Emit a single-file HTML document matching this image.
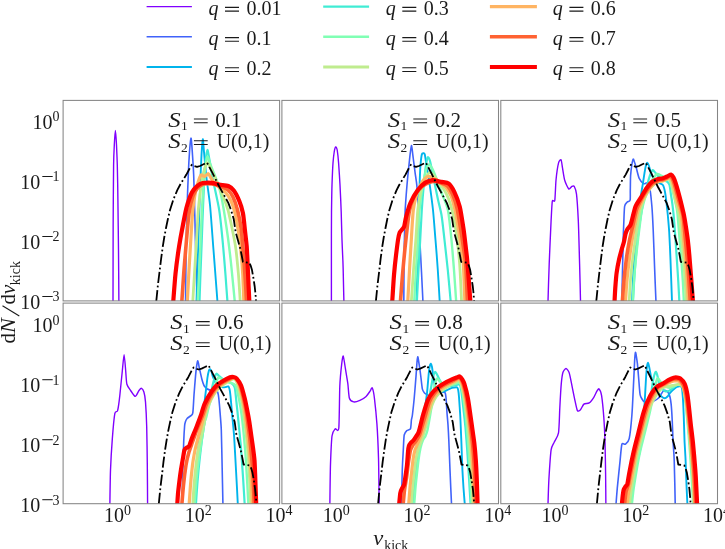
<!DOCTYPE html><html><head><meta charset="utf-8"><title>kick velocity distributions</title>
<style>html,body{margin:0;padding:0;background:#fff;}svg{display:block;will-change:transform;font-family:"Liberation Serif", serif;}text{fill:#1a1a1a;}</style></head><body>
<svg width="725" height="549" viewBox="0 0 725 549">
<rect width="725" height="549" fill="#fff"/>
<defs>
<clipPath id="cp1"><rect x="63.1" y="100.4" width="216.5" height="200.5"/></clipPath>
<clipPath id="cp2"><rect x="281.9" y="100.4" width="216.6" height="200.5"/></clipPath>
<clipPath id="cp3"><rect x="500.8" y="100.4" width="216.7" height="200.5"/></clipPath>
<clipPath id="cp4"><rect x="63.1" y="303.1" width="216.5" height="200.6"/></clipPath>
<clipPath id="cp5"><rect x="281.9" y="303.1" width="216.6" height="200.6"/></clipPath>
<clipPath id="cp6"><rect x="500.8" y="303.1" width="216.7" height="200.6"/></clipPath>
</defs>
<path d="M146.6 6.6H191.9" stroke="#8000ff" stroke-width="1.4" fill="none"/>
<text x="208.4" y="15" font-size="20" font-style="italic">q</text><path d="M225 7.4H239M225 11.1H239" stroke="#1a1a1a" stroke-width="1.1" fill="none"/><text x="246.4" y="15" font-size="20">0.01</text>
<path d="M146.6 36.8H191.9" stroke="#4062fa" stroke-width="1.6" fill="none"/>
<text x="208.4" y="45.2" font-size="20" font-style="italic">q</text><path d="M225 37.6H239M225 41.3H239" stroke="#1a1a1a" stroke-width="1.1" fill="none"/><text x="246.4" y="45.2" font-size="20">0.1</text>
<path d="M146.6 67H191.9" stroke="#00b4ec" stroke-width="1.9" fill="none"/>
<text x="208.4" y="75.4" font-size="20" font-style="italic">q</text><path d="M225 67.8H239M225 71.5H239" stroke="#1a1a1a" stroke-width="1.1" fill="none"/><text x="246.4" y="75.4" font-size="20">0.2</text>
<path d="M323.2 6.6H369.1" stroke="#40ecd4" stroke-width="2.2" fill="none"/>
<text x="385.7" y="15" font-size="20" font-style="italic">q</text><path d="M402.3 7.4H416.3M402.3 11.1H416.3" stroke="#1a1a1a" stroke-width="1.1" fill="none"/><text x="423.7" y="15" font-size="20">0.3</text>
<path d="M323.2 36.8H369.1" stroke="#80ffb4" stroke-width="2.4" fill="none"/>
<text x="385.7" y="45.2" font-size="20" font-style="italic">q</text><path d="M402.3 37.6H416.3M402.3 41.3H416.3" stroke="#1a1a1a" stroke-width="1.1" fill="none"/><text x="423.7" y="45.2" font-size="20">0.4</text>
<path d="M323.2 67H369.1" stroke="#bfec8e" stroke-width="2.8" fill="none"/>
<text x="385.7" y="75.4" font-size="20" font-style="italic">q</text><path d="M402.3 67.8H416.3M402.3 71.5H416.3" stroke="#1a1a1a" stroke-width="1.1" fill="none"/><text x="423.7" y="75.4" font-size="20">0.5</text>
<path d="M489.9 6.6H536.9" stroke="#ffb462" stroke-width="3.2" fill="none"/>
<text x="552.8" y="15" font-size="20" font-style="italic">q</text><path d="M569.4 7.4H583.4M569.4 11.1H583.4" stroke="#1a1a1a" stroke-width="1.1" fill="none"/><text x="590.8" y="15" font-size="20">0.6</text>
<path d="M489.9 36.8H536.9" stroke="#ff6232" stroke-width="3.6" fill="none"/>
<text x="552.8" y="45.2" font-size="20" font-style="italic">q</text><path d="M569.4 37.6H583.4M569.4 41.3H583.4" stroke="#1a1a1a" stroke-width="1.1" fill="none"/><text x="590.8" y="45.2" font-size="20">0.7</text>
<path d="M489.9 67H536.9" stroke="#ff0000" stroke-width="4.2" fill="none"/>
<text x="552.8" y="75.4" font-size="20" font-style="italic">q</text><path d="M569.4 67.8H583.4M569.4 71.5H583.4" stroke="#1a1a1a" stroke-width="1.1" fill="none"/><text x="590.8" y="75.4" font-size="20">0.8</text>
<g clip-path="url(#cp1)" fill="none" stroke-linejoin="round" stroke-linecap="butt">
<path d="M113 305C113 298.6 113.1 262.2 113.1 250C113.1 237.8 113.2 209.9 113.3 200C113.4 190.1 113.5 171.4 113.6 165C113.7 158.6 114.1 149 114.3 145C114.5 141 115.1 130.4 115.4 130.4C115.7 130.4 116.3 141 116.5 145C116.7 149 117.1 158.6 117.3 165C117.5 171.4 117.8 190.1 117.9 200C118 209.9 118.4 237.8 118.5 250C118.6 262.2 118.9 298.6 118.9 305" stroke="#8000ff" stroke-width="1.4"/>
<path d="M185.5 305C185.5 299.8 185.9 269.3 186 260C186.1 250.7 186.4 232.6 186.6 225C186.8 217.4 187.2 202.6 187.5 195C187.8 187.4 188.6 166.6 189 160C189.4 153.4 190.6 138.8 191 138.2C191.4 137.6 192.2 150.6 192.5 155C192.8 159.4 193.4 168.5 193.7 175.5C194 182.5 194.6 205.7 194.8 215C195 224.3 195.5 244.5 195.8 255C196.1 265.5 197 299.2 197.1 305" stroke="#4062fa" stroke-width="1.6"/>
<path d="M196.4 305C196.5 299.8 197.5 269.9 197.8 260C198.1 250.1 198.7 228.8 199 220C199.3 211.2 199.9 192.6 200.2 185C200.5 177.4 201.2 160.4 201.5 155C201.8 149.6 202.5 139.4 202.8 139.1C203.1 138.8 203.6 147.5 204 152C204.4 156.5 205.8 171.7 206.5 178C207.2 184.3 209.3 197.6 210.1 206C210.9 214.4 212.8 241.4 213.5 250C214.2 258.6 215.3 273.6 215.8 280C216.3 286.4 217.5 302.1 217.7 305" stroke="#00b4ec" stroke-width="1.9"/>
<path d="M199.4 305C199.5 299.8 200.6 269.9 201 260C201.4 250.1 202.2 228.8 202.5 220C202.8 211.2 203.7 191.8 204 185C204.3 178.2 205.1 166.1 205.5 162C205.9 157.9 206.9 150.2 207.4 150C207.9 149.8 208.8 156.5 209.5 160C210.2 163.5 211.9 174.2 213 180C214.1 185.8 218 202.4 219.2 210C220.4 217.6 222.3 237.4 223 245C223.7 252.6 225 268 225.5 275C226 282 227.4 301.5 227.7 305" stroke="#40ecd4" stroke-width="2.2"/>
<path d="M197.5 305C197.7 300.3 199.1 273.2 199.5 265C199.9 256.8 200.5 241.4 200.8 235C201.1 228.6 201.6 215.8 201.9 210C202.2 204.2 203.1 190.2 203.5 185C203.9 179.8 205 168.3 205.5 165C206 161.7 207 157.2 207.5 156.8C208 156.5 208.9 160.3 209.5 162C210.1 163.7 212 168.6 213 171C214 173.4 216.8 180.2 217.7 183C218.6 185.8 220.3 191.8 221 195C221.7 198.2 223 205 223.8 210C224.6 215 227.1 231.2 228 238C228.9 244.8 230.7 260.2 231.5 268C232.3 275.8 234.7 300.7 235.1 305" stroke="#80ffb4" stroke-width="2.4"/>
<path d="M192.6 305C192.8 300.3 194.5 273.2 195 265C195.5 256.8 196.4 241.4 196.8 235C197.2 228.6 197.9 215.2 198.3 210C198.7 204.8 200 194.1 200.5 190C201 185.9 202.4 177.8 203 175C203.6 172.2 205 167.4 205.5 166C206 164.6 206.7 163 207.2 163C207.7 163 208.8 164.8 209.5 166C210.2 167.2 212 171.4 213 173.5C214 175.6 216.8 181.4 218 184C219.2 186.6 221.8 193 223 196C224.2 199 226.9 206.3 228 210C229.1 213.7 231.1 223.7 232 228C232.9 232.3 234.8 241.5 235.6 247C236.4 252.5 237.9 268.2 238.5 275C239.1 281.8 240.2 301.5 240.5 305" stroke="#bfec8e" stroke-width="2.8"/>
<path d="M187.1 305C187.3 300.9 188.6 277.6 189 270C189.4 262.4 190.4 247 190.8 240C191.2 233 192.3 215.6 192.8 210C193.3 204.4 194.8 195.4 195.5 192C196.2 188.6 197.9 183 198.5 181C199.1 179 200.3 175.5 201 175C201.7 174.5 203.7 176.6 204.6 176.4C205.5 176.2 207.6 173.5 208.3 173.7C209 173.9 210.2 176.8 211 178C211.8 179.2 213.9 182.8 215 184C216.1 185.2 218.7 186.9 220 188C221.3 189.1 224.7 191.5 226 193C227.3 194.5 229.9 198.7 231 201C232.1 203.3 234.1 209.4 235 213C235.9 216.6 237.8 227.4 238.5 232C239.2 236.6 240.5 247 241 252C241.5 257 242.5 268.8 242.8 275C243.1 281.2 243.8 301.5 244 305" stroke="#ffb462" stroke-width="3.2"/>
<path d="M181.6 305C181.9 300.9 183.4 277.6 184 270C184.6 262.4 185.9 246.8 186.5 240C187.1 233.2 188.4 217.1 189.2 212C190 206.9 192 198.9 193 196C194 193.1 196.7 188.9 198 187.5C199.3 186.1 202.4 184.4 204 184C205.6 183.6 210.1 183.8 212 184C213.9 184.2 218.1 185.3 220 186C221.9 186.7 226.5 188.7 228 190C229.5 191.3 231.9 194.7 233 197C234.1 199.3 236.6 206.4 237.5 210C238.4 213.6 240.4 222.9 241.1 228.2C241.8 233.4 243 249 243.5 255C244 261 244.9 274.2 245.3 280C245.7 285.8 246.6 302.1 246.7 305" stroke="#ff6232" stroke-width="3.6"/>
<path d="M173 305C173.3 301.4 174.8 280.6 175.5 273.8C176.2 267 178.3 251.5 179.1 246.4C179.9 241.3 181.1 234.5 182 230C182.9 225.5 185.2 212.4 186.4 208C187.6 203.6 190.6 195.1 191.9 192.5C193.2 189.9 196.1 186.9 197.4 185.8C198.7 184.7 201.1 183.3 202.8 183C204.5 182.7 210 182.6 211.9 182.8C213.8 183 217.3 184.2 219.2 184.6C221.1 185 226.6 185.3 228.3 186C230 186.7 232.5 188.8 233.8 190.5C235.1 192.2 238.2 198.4 239.3 201C240.4 203.6 242.2 209.6 242.9 213C243.6 216.4 244.5 226.1 244.9 230C245.3 233.9 246.3 241.4 246.7 246.4C247.1 251.4 247.7 266.2 248 273C248.3 279.8 249.3 301.3 249.5 305" stroke="#ff0000" stroke-width="4.2"/>
<path d="M156.3 301.1L157.8 286L159.5 272L161.1 259L162.8 246.4L164.3 237L166 228L167.9 219L170 210L173.4 199.5L177.3 190.1L180 185L183 180L186.4 174.6L189.6 168.5L191.8 164.8L194 166L197 166.8L200 166L203.5 164.3L207.1 162.7L208.8 166L211.9 171.9L215.5 179L219.2 186.5L223.7 194.5L228.3 202.9L231.2 210.5L233.8 219.3L235.6 231.9L238 240.5L240.2 248.3L241.6 255L242.9 261.9L249.3 262.8L250.8 266L252 270.1L253.4 278L254.7 286.5L255.5 294L256.2 303.9" stroke="#000" stroke-width="1.8" stroke-dasharray="11.1 2.65 1.8 2.65"/>
</g>
<g clip-path="url(#cp2)" fill="none" stroke-linejoin="round" stroke-linecap="butt">
<path d="M331.4 305C331.4 298.6 331.4 260.9 331.4 250C331.4 239.2 331.4 219.6 331.5 212C331.6 204.4 331.8 190.7 332 185C332.2 179.3 332.7 166.8 333 163C333.3 159.2 333.9 153.9 334.2 152C334.5 150.1 335.3 147.2 335.7 147C336.1 146.8 336.9 148.1 337.2 150C337.5 151.9 338.3 158.9 338.6 163C338.9 167.1 339.7 179.3 340 185C340.3 190.7 341 205.6 341.2 212C341.4 218.4 341.8 234.3 342 240C342.2 245.7 342.7 256.3 342.9 261C343.1 265.7 343.3 274.9 343.4 280C343.5 285.1 343.9 302.1 344 305" stroke="#8000ff" stroke-width="1.4"/>
<path d="M403.8 305C403.8 298.6 404 260.9 404.2 250C404.4 239.2 404.8 219.6 405.1 212C405.4 204.4 406.5 191.1 407 185C407.5 178.9 409 164.6 409.5 160C410 155.4 411 145.7 411.4 145.5C411.8 145.3 412.8 154.9 413.2 158C413.6 161.1 414.6 168.7 415 172C415.4 175.3 416.5 181 416.9 186C417.3 191 418.2 208.7 418.5 215C418.8 221.3 419.4 233.3 419.8 240C420.2 246.7 421.1 264.4 421.5 272C421.9 279.6 422.9 301.1 423.1 305" stroke="#4062fa" stroke-width="1.6"/>
<path d="M416.4 305C416.5 299.8 417.3 269.9 417.5 260C417.7 250.1 418.3 228.8 418.5 220C418.7 211.2 419.4 191.4 419.6 185C419.8 178.6 420.2 168.6 420.5 165C420.8 161.4 421.5 155.9 421.8 154.5C422.1 153.1 422.9 153.2 423.3 153.2C423.7 153.2 424.4 152.8 424.8 154.5C425.2 156.2 426.4 164.5 427 168C427.6 171.5 429 179.7 429.7 184.6C430.4 189.5 432.3 203.5 433 210C433.7 216.5 434.9 233 435.5 240C436.1 247 437.3 262.4 437.8 270C438.3 277.6 439.7 300.9 439.9 305" stroke="#00b4ec" stroke-width="1.9"/>
<path d="M416.7 305C416.9 300.9 418.1 277.6 418.5 270C418.9 262.4 419.8 247 420.2 240C420.6 233 421.4 216.4 421.8 210C422.2 203.6 423.3 190.2 423.8 185C424.3 179.8 425.5 168.2 426 165C426.5 161.8 427.3 157.8 427.8 157.3C428.3 156.8 429.3 158.6 430 161C430.7 163.4 432.6 173.5 433.5 178C434.4 182.5 437 194.9 437.9 199.2C438.8 203.5 440.7 210.2 441.5 215C442.3 219.8 443.8 233.6 444.5 240C445.2 246.4 447 262.4 447.8 270C448.6 277.6 450.6 300.9 451 305" stroke="#40ecd4" stroke-width="2.2"/>
<path d="M414 305C414.2 300.9 415.5 277.6 416 270C416.5 262.4 417.6 247 418 240C418.4 233 419.1 215.8 419.6 210C420.1 204.2 421.3 194.4 422 190C422.7 185.6 424.7 175 425.5 172C426.3 169 428 165.1 428.8 164.6C429.6 164.1 431 166.2 432 168C433 169.8 435.8 176.8 437 180C438.2 183.2 441.2 191.5 442.5 195C443.8 198.5 446.8 204.8 447.9 210C448.9 215.2 450.8 233 451.5 240C452.2 247 453.4 262.4 454 270C454.6 277.6 456.1 300.9 456.4 305" stroke="#80ffb4" stroke-width="2.4"/>
<path d="M411.1 305C411.4 300.9 413 277.6 413.5 270C414 262.4 415.3 247 415.8 240C416.3 233 417.3 215.5 417.8 210C418.3 204.5 419.7 196.5 420.5 193C421.3 189.5 423.6 182.2 424.5 180C425.4 177.8 427.3 174.9 428 174C428.7 173.1 429.9 172.3 430.6 172.5C431.3 172.7 432.9 174.7 434 176C435.1 177.3 438.6 182 440 184C441.4 186 444.7 190.4 446 193C447.3 195.6 449.9 202.3 451 206C452.1 209.7 454.2 220.4 455 225C455.8 229.6 457.3 240.4 457.8 245C458.3 249.6 459.2 257.6 459.7 264.6C460.2 271.6 461.5 300.3 461.7 305" stroke="#bfec8e" stroke-width="2.8"/>
<path d="M407.6 305C407.8 300.9 409.1 277.6 409.5 270C409.9 262.4 410.9 247 411.3 240C411.7 233 412.7 215.2 413.3 210C413.9 204.8 415.6 198 416.5 195C417.4 192 420 185.9 421 184C422 182.1 424.1 179.4 425 178.5C425.9 177.6 427.9 176.5 428.8 176.4C429.7 176.3 431.7 177.3 433 178C434.3 178.7 438.5 181.4 440 182.5C441.5 183.6 444.7 185.9 446 187.5C447.3 189.1 449.9 193.4 451 196C452.1 198.6 454.1 206 455 210C455.9 214 457.7 225.3 458.5 230C459.3 234.7 460.9 246 461.5 250C462.1 254 463 258.2 463.4 264.6C463.8 271 464.8 300.3 465 305" stroke="#ffb462" stroke-width="3.2"/>
<path d="M400.2 305C400.5 301.5 401.9 281.6 402.5 275C403.1 268.4 404.4 253.8 405 248C405.6 242.2 407 229.4 407.5 225C408 220.6 408.9 213.2 409.6 210C410.3 206.8 412.4 200.4 413.5 198C414.6 195.6 417.5 191.1 419 189.5C420.5 187.9 424.4 184.9 426 184C427.6 183.1 431.2 181.6 433 181.5C434.8 181.4 439.3 182.5 441 183C442.7 183.5 446.2 184.7 447.5 186C448.8 187.3 451.4 191.4 452.5 194C453.6 196.6 456.1 204 457 208C457.9 212 459.7 223.3 460.5 228C461.3 232.7 462.9 243.7 463.5 248C464.1 252.3 465.2 258 465.7 264.6C466.2 271.2 467.4 300.3 467.6 305" stroke="#ff6232" stroke-width="3.6"/>
<path d="M392 305C392.3 301.5 393.5 280.8 394 275C394.5 269.2 395.5 259.6 396 255.5C396.5 251.4 397.6 242.6 398 240C398.4 237.4 399.1 234.1 399.6 232.8C400.1 231.5 402 229.7 402.5 229C403 228.3 403.8 227.8 404.2 226.4C404.6 225 405.3 220.1 406 217.4C406.7 214.7 409.1 206.1 410.5 202.9C411.9 199.7 416.1 192.4 417.8 190.1C419.5 187.8 423.4 184 425.1 182.8C426.8 181.6 430.5 180.2 432.4 180.1C434.3 180 439.6 181.5 441.5 181.9C443.4 182.3 447.3 182.5 448.8 183.7C450.3 184.9 453 189.2 454.3 191.9C455.6 194.6 458.6 202.3 459.7 206.5C460.8 210.7 462.7 223.5 463.4 228C464.1 232.5 465.1 241.5 465.5 245C465.9 248.5 466.6 253.9 467 258C467.4 262.1 468.4 274.5 468.8 280C469.2 285.5 470.4 302.1 470.6 305" stroke="#ff0000" stroke-width="4.2"/>
<path d="M375.9 301.1L377.4 286L379.1 272L380.6 259L382.3 246.4L383.8 237L385.5 228L387.3 219L389.4 210L392.7 199.5L396.6 190.1L399.2 185L402.2 180L405.5 174.6L408.7 168.5L410.9 164.8L413 166L416 166.8L418.9 166L422.4 164.3L425.9 162.7L427.6 166L430.7 171.9L434.2 179L437.9 186.5L442.3 194.5L446.8 202.9L449.7 210.5L452.2 219.3L454 231.9L456.4 240.5L458.5 248.3L459.9 255L461.2 261.9L467.5 262.8L469 266L470.2 270.1L471.5 278L472.8 286.5L473.6 294L474.3 303.9" stroke="#000" stroke-width="1.8" stroke-dasharray="11.1 2.65 1.8 2.65"/>
</g>
<g clip-path="url(#cp3)" fill="none" stroke-linejoin="round" stroke-linecap="butt">
<path d="M547.9 305C548 300.2 548.8 273.8 549.2 263.9C549.6 254 550.7 227.8 551.1 220.5C551.5 213.2 551.9 203.6 552.3 201.3C552.7 199 554.4 202.8 554.8 200.4C555.2 198 555.6 184.6 556 180.3C556.4 176 557.9 165.6 558.5 163.2C559.1 160.8 560.5 159.3 561 159.8C561.5 160.3 562.1 165.5 562.5 167.9C562.9 170.3 564 177.9 564.7 180.3C565.4 182.8 567.9 188.2 568.7 188.9C569.5 189.6 571.1 186.8 571.8 186.5C572.5 186.2 573.8 185.6 574.3 186.5C574.8 187.4 576 190.2 576.5 194.2C577 198.2 577.9 212.4 578.3 220.5C578.7 228.6 579.3 254 579.6 263.9C579.9 273.8 580.5 300.2 580.6 305" stroke="#8000ff" stroke-width="1.4"/>
<path d="M621.8 305C621.9 300.9 622.3 277.6 622.5 270C622.7 262.4 623.1 245.2 623.2 240C623.3 234.8 623.5 228.9 623.7 225C623.9 221.1 624.2 209.2 624.6 206.5C625 203.8 626.7 202.7 627.3 202C627.9 201.3 629.8 201.5 630.1 200.1C630.5 198.7 630.2 192.9 630.3 190C630.4 187.1 630.4 178.4 630.6 175.5C630.8 172.6 631.5 166.9 631.8 165C632.1 163.1 632.9 159.3 633.2 159.1C633.6 158.9 634.4 161.9 634.8 163C635.2 164.1 635.9 166.5 636.4 168.3C636.9 170.1 638.3 176.5 639.2 178.3C640.1 180.1 642.7 183.2 643.7 183.7C644.7 184.2 646.7 182.1 647.4 182.8C648.1 183.5 649.6 187.3 650.1 190.1C650.6 192.9 651.5 201.8 651.9 206.5C652.3 211.2 652.9 223.2 653.2 230C653.5 236.8 654.2 256.2 654.5 265C654.8 273.8 655.9 300.3 656.1 305" stroke="#4062fa" stroke-width="1.6"/>
<path d="M631.8 305C632 300.9 633.1 277.6 633.5 270C633.9 262.4 635 246.4 635.5 240C636 233.6 637.4 219.9 638 215C638.6 210.1 640 201.4 640.5 198C641 194.6 642 188.9 642.5 186C643 183.1 644.1 175.4 644.5 173C644.9 170.6 645.7 166.2 646 165C646.3 163.8 647 162.7 647.4 162.8C647.8 162.9 648.6 164.8 649 166C649.4 167.2 650.4 171.5 651 173C651.6 174.5 653.2 177.9 654 179C654.8 180.1 657 181.8 658 182.5C659 183.2 662.1 183.9 662.9 185C663.7 186.1 664.6 189.9 665 192C665.4 194.1 666.2 200.3 666.5 203C666.8 205.7 667.5 211.6 667.8 215C668.1 218.4 668.9 226.8 669.2 232C669.5 237.2 670.3 254.2 670.5 260C670.7 265.8 671.1 276.8 671.3 282C671.5 287.2 672 302.3 672.1 305" stroke="#00b4ec" stroke-width="1.9"/>
<path d="M632.8 305C633 301.5 634.1 281.4 634.5 275C634.9 268.6 636 255.5 636.5 250C637 244.5 638.4 232.4 639 228C639.6 223.6 640.9 215.7 641.5 212C642.1 208.3 643.7 199.5 644.5 196C645.3 192.5 647.3 184.6 648 182C648.7 179.4 649.9 175.4 650.5 174C651.1 172.6 652.2 170.2 652.8 170.1C653.4 170 654.8 172.2 655.5 173C656.2 173.8 658.1 176.2 659 177C659.9 177.8 662.1 179.5 663 180C663.9 180.5 666.2 180.9 667 181.5C667.8 182.1 669 183.4 669.5 185C670 186.6 670.6 192.7 671 195C671.4 197.3 672.2 202.4 672.5 205C672.8 207.6 673.5 213.5 673.8 217C674.1 220.5 674.8 229.8 675.2 235C675.6 240.2 676.6 256.5 677 262C677.4 267.5 678 277 678.3 282C678.6 287 679.4 302.3 679.5 305" stroke="#40ecd4" stroke-width="2.2"/>
<path d="M632.6 305C632.7 302.1 633.6 285.5 634 280C634.4 274.5 635.5 262.9 636 258C636.5 253.1 637.7 242.2 638.2 238C638.7 233.8 639.8 225.3 640.2 222C640.6 218.7 641.3 212.8 641.9 210C642.5 207.2 644.2 200.7 645 198C645.8 195.3 648.1 189.3 649 187C649.9 184.7 652 180 653 178.5C654 177 656.5 174.3 657.4 174C658.3 173.7 660.1 175.1 661 175.5C661.9 175.9 664.1 177.1 665 177.5C665.9 177.9 667.9 178.6 668.5 179C669.1 179.4 670 179.7 670.5 181C671 182.3 671.9 187.4 672.5 190C673.1 192.6 675 200.3 675.6 203C676.2 205.7 676.9 208.9 677.4 213C677.9 217.1 679 232.3 679.5 238C680 243.7 681.1 256.9 681.5 262C681.9 267.1 682.6 277 682.9 282C683.2 287 683.9 302.3 684 305" stroke="#80ffb4" stroke-width="2.4"/>
<path d="M629 305C629.1 302.1 630.1 285.5 630.5 280C630.9 274.5 632.2 262.9 632.8 258C633.4 253.1 634.9 242.2 635.5 238C636.1 233.8 637.5 225.3 638 222C638.5 218.7 639.4 212.6 640.1 210C640.8 207.4 643 201.7 644 199.5C645 197.3 647.4 192.7 648.5 191C649.6 189.3 652.3 186.1 653.5 185C654.7 183.9 657.3 182.5 658.5 182C659.7 181.5 662.5 181.3 663.5 181C664.5 180.7 666.4 179.7 667 179.5C667.6 179.3 668.5 178.6 669 179C669.5 179.4 670.5 181.5 671 183C671.5 184.5 672.9 189.7 673.5 192C674.1 194.3 675.3 200.1 676 203C676.7 205.9 679 212.9 679.6 217C680.2 221.1 681 232.8 681.5 238C682 243.2 683.4 256.9 683.8 262C684.2 267.1 684.9 277 685.2 282C685.5 287 686.3 302.3 686.4 305" stroke="#bfec8e" stroke-width="2.8"/>
<path d="M625.2 305C625.4 302.1 626.5 285.5 627 280C627.5 274.5 628.9 262.9 629.5 258C630.1 253.1 631.8 242.2 632.5 238C633.2 233.8 634.8 225.3 635.5 222C636.2 218.7 637.4 212.7 638.3 210C639.2 207.3 641.9 201.3 643 199C644.1 196.7 646.8 192.2 648 190.5C649.2 188.8 651.8 185.6 653 184.5C654.2 183.4 657.3 182 658.5 181.5C659.7 181 662.5 180.8 663.5 180.5C664.5 180.2 666.7 178.8 667.5 178.5C668.3 178.2 669.5 177.2 670 177.5C670.5 177.8 671.5 179.5 672 181C672.5 182.5 673.9 187.6 674.5 190C675.1 192.4 676.7 199 677.5 202C678.3 205 680.7 211.8 681.4 216C682.1 220.2 683 232.6 683.5 238C684 243.4 685.4 256.9 685.8 262C686.2 267.1 687 277 687.3 282C687.6 287 688.5 302.3 688.6 305" stroke="#ffb462" stroke-width="3.2"/>
<path d="M622.1 305C622.3 302.1 623.5 285.5 624 280C624.5 274.5 625.9 262.7 626.5 258C627.1 253.3 628.8 243.6 629.5 240C630.2 236.4 631.7 230.5 632.5 227C633.3 223.5 635.4 213.3 636.4 210C637.4 206.7 640.3 201.3 641.5 199C642.7 196.7 645.7 191.8 647 190C648.3 188.2 651.2 184.6 652.5 183.5C653.8 182.4 656.8 181 658 180.5C659.2 180 661.9 179.8 663 179.5C664.1 179.2 666.6 177.9 667.5 177.5C668.4 177.1 669.9 175.7 670.5 176C671.1 176.3 672.4 178.6 673 180C673.6 181.4 674.8 185.6 675.5 188C676.2 190.4 678.1 197.8 679 201C679.9 204.2 682.2 211 682.9 215C683.6 219 684.5 229.5 685 235C685.5 240.5 687 256.5 687.5 262C688 267.5 688.7 277 689 282C689.3 287 690.3 302.3 690.5 305" stroke="#ff6232" stroke-width="3.6"/>
<path d="M614.4 305C614.5 302.7 615.2 288.7 615.5 285C615.8 281.3 616.2 276 616.6 273C617 270 618.5 261.9 619.1 259.2C619.7 256.5 621 251.9 621.5 250C622 248.1 623.2 244.7 623.7 242.8C624.2 240.9 625.1 235.6 625.5 234C625.9 232.4 626.9 230.1 627.5 229C628.1 227.9 630 226.2 630.5 225C631 223.8 631.6 221.2 632.2 219C632.8 216.8 634.5 209 635.5 206.5C636.5 204 639.7 199.5 641 197.4C642.3 195.3 645.2 190.1 646.5 188.3C647.8 186.5 650.6 183 651.9 181.9C653.2 180.8 656.1 179.6 657.4 179.2C658.7 178.8 661.8 178.6 662.9 178.3C664 178 666 176.9 667 176.5C668 176.1 670.3 174.5 671.1 174.6C671.9 174.7 673 176.5 673.5 177.5C674 178.5 674.8 180.3 675.6 182.8C676.4 185.3 679.3 195.7 680.2 199.2C681.1 202.7 682.8 209.9 683.5 213C684.2 216.1 685.3 222.8 685.8 226C686.3 229.2 687.4 236.6 687.8 240C688.2 243.4 689 251.5 689.3 255C689.6 258.5 690.2 266.5 690.5 270C690.8 273.5 691.4 280.9 691.7 285C692 289.1 693 302.7 693.2 305" stroke="#ff0000" stroke-width="4.2"/>
<path d="M596.3 301.1L597.8 286L599.4 272L601 259L602.6 246.4L604.1 237L605.8 228L607.6 219L609.7 210L613 199.5L616.8 190.1L619.4 185L622.4 180L625.7 174.6L628.8 168.5L630.9 164.8L633.1 166L636 166.8L639 166L642.4 164.3L645.9 162.7L647.5 166L650.6 171.9L654.1 179L657.7 186.5L662.1 194.5L666.6 202.9L669.4 210.5L671.9 219.3L673.7 231.9L676 240.5L678.2 248.3L679.6 255L680.8 261.9L687.1 262.8L688.5 266L689.7 270.1L691.1 278L692.3 286.5L693.1 294L693.8 303.9" stroke="#000" stroke-width="1.8" stroke-dasharray="11.1 2.65 1.8 2.65"/>
</g>
<g clip-path="url(#cp4)" fill="none" stroke-linejoin="round" stroke-linecap="butt">
<path d="M109.8 508C109.9 503.6 110.2 478.1 110.5 470.1C110.8 462.1 111.8 445.7 112.3 439.1C112.8 432.5 114.2 417 114.8 413.7C115.4 410.4 117 412.7 117.6 410.6C118.2 408.5 119.3 400.3 119.8 395.7C120.3 391.1 121.8 375.8 122.3 371C122.8 366.2 123.7 354.6 124.1 354.6C124.5 354.6 125.4 367.5 125.7 371C126 374.5 126.3 382 126.9 384.3C127.5 386.6 129.6 389.1 130.6 390.5C131.6 391.9 134.3 396.4 135.3 396.4C136.3 396.4 138.3 391.4 139 390.5C139.7 389.6 140.9 388.1 141.5 388.3C142.1 388.5 143.4 390.4 143.9 392C144.4 393.6 145.2 397.9 145.5 401.9C145.8 405.9 146.5 419.5 146.7 426.7C146.9 433.9 147.2 454.4 147.3 463.9C147.4 473.4 147.6 502.9 147.6 508" stroke="#8000ff" stroke-width="1.4"/>
<path d="M181.8 508C181.9 503.6 182.6 477.7 182.8 470C183 462.3 183.5 447.1 183.7 442C183.9 436.9 184.4 428.4 184.6 426C184.8 423.6 185.2 422.4 185.5 421.5C185.8 420.6 186.7 419 187.3 418.3C187.9 417.6 190.4 416.2 191 415.6C191.6 415 192.5 415.3 192.8 412.9C193.2 410.5 193.7 399.3 194 395C194.3 390.7 195.2 379.9 195.5 376.4C195.8 372.9 196.5 366.8 196.8 365C197.1 363.2 197.5 361.1 197.7 360.9C197.9 360.7 198.3 362.8 198.5 363.5C198.7 364.2 198.8 365.5 199.2 367.3C199.6 369.1 201.3 377 201.9 379.2C202.5 381.4 203.6 385.1 204.6 386.4C205.6 387.7 208.8 389.8 210.1 390.1C211.4 390.4 214.6 388.7 215.6 389.2C216.6 389.7 217.8 391.8 218.3 394.6C218.8 397.4 219.8 408.8 220.1 412.9C220.4 417 221.1 424.5 221.3 430C221.5 435.5 221.8 450.9 222 460C222.2 469.1 222.9 502.4 223 508" stroke="#4062fa" stroke-width="1.6"/>
<path d="M192.7 508C193 504.5 194.4 484.8 195 478C195.6 471.2 197.2 456.2 198 450C198.8 443.8 200.7 431.1 201.5 425C202.3 418.9 204.3 403.5 205 398C205.7 392.5 207 381.1 207.4 378C207.8 374.9 208.5 372 208.8 371C209.1 370 209.8 369 210.1 369.1C210.4 369.2 211.2 370.6 211.5 371.5C211.8 372.4 212.3 375.1 212.8 376.4C213.3 377.7 214.9 381.7 215.6 382.8C216.3 383.9 218.1 385.5 219 386C219.9 386.5 222.1 387.3 222.9 387.4C223.7 387.5 225.4 387.1 226 387C226.6 386.9 227.9 386.2 228.3 386.4C228.7 386.6 229.2 387.9 229.5 389C229.8 390.1 230.2 393.2 230.5 396C230.8 398.8 231.6 408.4 232 413C232.4 417.6 233.5 428.4 234 435C234.5 441.6 235.5 461.5 236 470C236.5 478.5 237.8 503.6 238 508" stroke="#00b4ec" stroke-width="1.9"/>
<path d="M195.7 508C195.9 505 197 487.8 197.5 482C198 476.2 199.2 463.4 199.8 458C200.4 452.6 201.8 440.7 202.5 436C203.2 431.3 204.7 422 205.5 418C206.3 414 208.2 405.5 209 402C209.8 398.5 211.4 390.8 212 388C212.6 385.2 214 379.7 214.5 378C215 376.3 216 373.9 216.5 373.7C217 373.5 218.3 375.4 219 376C219.7 376.6 221.8 378.5 222.9 379.2C224 379.9 226.9 381.5 228 382C229.1 382.5 231.2 383.1 232 383.7C232.8 384.3 234.2 385.7 234.7 387.4C235.2 389.1 235.7 395 236 398C236.3 401 237.2 409 237.6 413C238 417 239 427.1 239.5 432C240 436.9 241.1 449.4 241.5 455C241.9 460.6 242.8 473.8 243.2 480C243.6 486.2 244.7 504.7 244.9 508" stroke="#40ecd4" stroke-width="2.2"/>
<path d="M194.3 508C194.5 505.3 195.6 490 196 485C196.4 480 197.5 469.3 198 465C198.5 460.7 199.9 451.9 200.5 448C201.1 444.1 202.5 435 203 432C203.5 429 204.2 423.6 204.6 422C204.9 420.4 205.7 418.8 206 418C206.3 417.2 206.4 416.6 206.8 415C207.2 413.4 208.8 406.6 209.5 404C210.2 401.4 212.2 395.4 213 393C213.8 390.6 215.4 384.8 216 383C216.6 381.2 217.9 378 218.5 377.5C219.1 377 220.6 378.5 221.5 379C222.4 379.5 224.9 381 226 381.5C227.1 382 229.9 382.6 231 383C232.1 383.4 234.2 383.9 235 385C235.8 386.1 237 390 237.5 392C238 394 239 399.4 239.5 402C240 404.6 241 410.5 241.5 414C242 417.5 243.1 427.6 243.5 432C243.9 436.4 244.9 447 245.3 452C245.7 457 246.4 468.5 246.8 475C247.2 481.5 248.4 504.1 248.6 508" stroke="#80ffb4" stroke-width="2.4"/>
<path d="M192.5 508C192.7 505.3 193.6 490 194 485C194.4 480 195.5 469.3 196 465C196.5 460.7 197.9 451.5 198.5 448C199.1 444.5 200.9 437.8 201.5 435C202.1 432.2 203.5 426.3 204 424C204.5 421.7 205 417.3 205.6 415C206.2 412.7 208 406.9 209 404.5C210 402.1 212.8 396.4 214 394.5C215.2 392.6 217.8 389.2 219 388C220.2 386.8 223.2 384.9 224.5 384C225.8 383.1 229 381.1 230 380.5C231 379.9 232.4 379.1 233 379C233.6 378.9 234.9 379.2 235.5 380C236.1 380.8 237.4 383.9 238 386C238.6 388.1 240.3 394.9 241 398C241.7 401.1 243.1 409.5 243.6 413C244.1 416.5 245.1 424.3 245.5 428C245.9 431.7 246.8 440.7 247.2 445C247.6 449.3 248.5 460.1 248.8 465C249.1 469.9 249.7 482 249.9 487C250.1 492 250.6 505.6 250.6 508" stroke="#bfec8e" stroke-width="2.8"/>
<path d="M188.9 508C189.1 505.3 190.1 490 190.5 485C190.9 480 192 469.1 192.5 465C193 460.9 194.4 453.1 195 450C195.6 446.9 197.3 440.7 198 438C198.7 435.3 200.3 429.7 201 427C201.7 424.3 203.5 417.7 204.3 415C205.1 412.3 206.9 406.5 208 404C209.1 401.5 212.3 395.5 213.5 393.5C214.7 391.5 217.3 388.2 218.5 387C219.7 385.8 222.7 383.9 224 383C225.3 382.1 228.9 380.1 230 379.5C231.1 378.9 232.8 378.1 233.5 378C234.2 377.9 235.4 378.1 236 379C236.6 379.9 238.3 383.3 239 385.5C239.7 387.7 241.6 394.8 242.3 398C243 401.2 244.5 409.5 245 413C245.5 416.5 246.6 424.3 247 428C247.4 431.7 248.4 440.7 248.8 445C249.2 449.3 250.2 460.1 250.5 465C250.8 469.9 251.5 482 251.7 487C251.9 492 252.5 505.6 252.6 508" stroke="#ffb462" stroke-width="3.2"/>
<path d="M181.6 508C181.8 505.3 183 490 183.5 485C184 480 185.4 468.9 186 465C186.6 461.1 188.2 454.7 189 452C189.8 449.3 191.7 444.3 192.5 442C193.3 439.7 195.2 434.2 196 432C196.8 429.8 198.7 425 199.5 423C200.3 421 202 417.2 202.8 415C203.6 412.8 205.4 406.6 206.5 404C207.6 401.4 211.2 394.6 212.5 392.5C213.8 390.4 216.7 387.2 218 386C219.3 384.8 222.1 382.9 223.5 382C224.9 381.1 228.8 379 230 378.5C231.2 378 233.2 377.5 234 377.5C234.8 377.5 235.8 377.6 236.5 378.5C237.2 379.4 239.2 382.7 240 385C240.8 387.3 242.7 394.7 243.5 398C244.3 401.3 245.9 409.5 246.5 413C247.1 416.5 248 424.3 248.5 428C249 431.7 250.1 440.7 250.5 445C250.9 449.3 252 460.1 252.3 465C252.7 469.9 253.3 482 253.5 487C253.7 492 254.3 505.6 254.4 508" stroke="#ff6232" stroke-width="3.6"/>
<path d="M177 508C177.2 506.1 177.7 496 178.2 491.5C178.7 487 180.4 473.5 181 469.6C181.6 465.7 182.6 460.3 183 458C183.4 455.7 184.1 450.8 184.6 449.6C185.1 448.4 186.5 447.9 187 447.5C187.5 447.1 188.6 447.1 189.2 446C189.8 444.9 191.3 439.9 192 438C192.7 436.1 194.8 431.4 195.5 429.6C196.2 427.9 197.4 424.7 198 423C198.6 421.3 200.2 417.2 201 415C201.8 412.8 203.3 406.6 204.6 403.8C205.9 401 210.4 393.2 211.9 391C213.4 388.8 216.1 385.8 217.4 384.6C218.7 383.4 221.4 381.9 222.9 381C224.4 380.1 228.9 377.8 230.1 377.3C231.3 376.8 232.8 376.9 233.5 377C234.2 377.1 235.6 377.3 236.5 378.3C237.4 379.3 240.1 383.2 241.1 385.5C242.1 387.8 243.8 394.7 244.7 398.3C245.6 401.9 247.7 412.8 248.4 416.5C249.1 420.2 250.1 427 250.5 430C250.9 433 251.7 438.4 252.2 442C252.7 445.6 254.1 455.1 254.5 460.5C254.9 465.9 255.4 482.4 255.6 487.9C255.8 493.4 256.3 505.7 256.3 508" stroke="#ff0000" stroke-width="4.2"/>
<path d="M158.8 503.8L160.3 488.6L162 474.6L163.5 461.6L165.2 449.1L166.7 439.6L168.3 430.6L170.2 421.6L172.3 412.6L175.6 402.1L179.4 392.8L182 387.6L185 382.6L188.3 377.2L191.4 371.1L193.6 367.5L195.7 368.6L198.7 369.5L201.6 368.6L205 367L208.6 365.4L210.2 368.6L213.3 374.6L216.8 381.6L220.4 389.1L224.8 397.1L229.3 405.6L232.1 413.1L234.7 422L236.4 434.6L238.8 443.1L240.9 451L242.3 457.6L243.6 464.5L249.9 465.5L251.3 468.6L252.5 472.8L253.9 480.6L255.1 489.1L255.9 496.6L256.6 506.6" stroke="#000" stroke-width="1.8" stroke-dasharray="11.1 2.65 1.8 2.65"/>
</g>
<g clip-path="url(#cp5)" fill="none" stroke-linejoin="round" stroke-linecap="butt">
<path d="M329.8 508C329.9 502.9 330.2 472.3 330.5 463.9C330.8 455.5 331.5 440.1 332 436C332.5 431.9 334.3 429.8 335.1 428.9C335.9 428 338.3 433.2 338.8 428.3C339.3 423.4 339.5 393.9 339.8 386.5C340.1 379.1 341.2 368.3 341.6 364.8C342 361.3 342.8 355.7 343.2 356.1C343.6 356.5 344.8 364.7 345.3 367.9C345.8 371.1 347.3 379.9 347.8 383.4C348.3 386.9 348.7 396 349.4 398.2C350.1 400.4 352.5 401.6 353.7 401.9C354.9 402.2 358.5 401 359.9 400.4C361.3 399.8 364.9 397.5 366.1 396.4C367.3 395.3 369.4 392.1 370.1 391.1C370.8 390.1 371.8 387.1 372.3 388C372.8 388.9 374 394.6 374.5 398.8C375 403 376.4 416.7 376.9 423.6C377.4 430.5 378.2 447.9 378.5 457.7C378.8 467.5 379.1 502.1 379.2 508" stroke="#8000ff" stroke-width="1.4"/>
<path d="M401.3 508C401.4 503.5 402.1 476.4 402.3 469.6C402.5 462.8 403.1 454 403.3 450C403.5 446 403.8 437.3 404.2 435C404.6 432.7 406.2 431.2 406.9 430.5C407.6 429.8 410 429.9 410.5 428.7C411 427.5 411.2 421.6 411.4 420C411.6 418.4 412.1 417.5 412.4 415C412.7 412.5 413.8 402.8 414.2 398.3C414.6 393.8 415.7 380.6 416 376.4C416.3 372.2 416.8 364.3 417 362C417.2 359.7 417.6 356.9 417.8 356.8C418 356.7 418.4 359.8 418.6 361C418.8 362.2 419.3 365.3 419.6 367.3C419.9 369.3 420.7 375.4 421 378C421.3 380.6 422 387.4 422.4 389.2C422.8 390.9 424 392.4 424.5 393C425 393.6 426.3 394.3 426.9 394.6C427.5 394.9 429.1 395.3 430 395.5C430.9 395.7 433.3 396.7 434.2 396.5C435.1 396.3 437.1 394.5 437.9 394C438.7 393.5 440.2 392.6 441 392.5C441.8 392.4 444.5 391.9 445.1 392.8C445.7 393.7 446 397.7 446.2 400C446.4 402.3 446.8 410 447 412.9C447.2 415.8 447.8 421.8 448 425C448.2 428.2 448.6 434.8 448.8 440C449 445.2 449.7 462.1 450 470C450.3 477.9 451.5 503.6 451.7 508" stroke="#4062fa" stroke-width="1.6"/>
<path d="M411.7 508C411.9 504.7 413.4 486.2 414 480C414.6 473.8 416.2 460.8 417 455C417.8 449.2 420.1 435.2 421 430C421.9 424.8 423.8 414.3 424.5 410C425.2 405.7 426.5 397.1 427 393C427.5 388.9 428.3 378.1 428.6 375C428.9 371.9 429.5 367.3 429.8 366C430.1 364.7 430.6 363.6 430.9 363.7C431.2 363.8 431.7 365.5 432 367C432.3 368.5 432.9 374.1 433.3 376.4C433.7 378.7 434.6 385.3 435.1 387C435.6 388.7 437.2 390.5 438 391C438.8 391.5 441.2 391.5 442 391.5C442.8 391.5 444.1 391.4 445.1 391C446.1 390.6 449.6 388.7 450.6 388.3C451.6 387.9 453.3 387.6 454 387.5C454.7 387.4 456.5 387.1 457 387.4C457.5 387.7 458 388.9 458.2 390C458.4 391.1 458.8 394.1 459 397C459.2 399.9 459.9 410 460.2 415C460.5 420 461 433.6 461.3 440C461.6 446.4 462.1 464 462.4 469.6C462.7 475.2 463.2 483.5 463.5 488C463.8 492.5 464.9 505.7 465.1 508" stroke="#00b4ec" stroke-width="1.9"/>
<path d="M413.2 508C413.5 504.7 414.5 486.1 415 480C415.5 473.9 416.9 461 417.5 456C418.1 451 419.7 441.1 420.5 437C421.3 432.9 423.2 424.7 424 421C424.8 417.3 426.7 408.9 427.5 405C428.3 401.1 430.4 391.3 431 388C431.6 384.7 432.5 378.9 433 377C433.5 375.1 434.6 372.1 435.1 371.9C435.6 371.7 437 374.5 437.5 375.5C438 376.5 439.1 379.1 439.7 380.1C440.3 381.2 442.1 383.8 443 384.5C443.9 385.2 445.9 386.3 447 386.5C448.1 386.7 450.9 386.2 452 386C453.1 385.8 455.6 385.2 456.5 385C457.4 384.8 459.2 384.1 459.7 384.6C460.2 385.1 460.7 387.3 461 389C461.3 390.7 462 396.3 462.3 399C462.6 401.7 463.4 408.6 463.8 412C464.2 415.4 465.1 423.6 465.5 428C465.9 432.4 466.8 444.2 467.2 450C467.6 455.8 468.6 471.2 469 478C469.4 484.8 470.6 504.5 470.8 508" stroke="#40ecd4" stroke-width="2.2"/>
<path d="M413.9 508C414.1 505.9 415 493.9 415.3 490C415.6 486.1 416.4 478.5 416.8 475C417.2 471.5 418.1 463.1 418.5 460C418.9 456.9 420 450.3 420.5 448C421 445.7 422.4 441.4 423 440C423.6 438.6 425 437.2 425.5 436C426 434.8 427 432.4 427.5 430C428 427.6 429.6 418.5 430.2 415C430.8 411.5 432 403.4 432.5 400C433 396.6 434 388.5 434.5 386C435 383.5 436.3 379.1 436.9 378.5C437.5 377.9 438.8 380.4 439.5 381C440.2 381.6 442 383.5 443 384C444 384.5 446.8 385.4 448 385.5C449.2 385.6 451.9 384.8 453 384.5C454.1 384.2 456.6 383.2 457.5 383C458.4 382.8 460 382.2 460.6 383C461.2 383.8 461.9 387.8 462.3 390C462.7 392.2 463.6 399 464 402C464.4 405 465.4 412.1 465.8 416C466.2 419.9 467.1 430.4 467.5 435C467.9 439.6 468.7 450 469 455C469.3 460 470 471.8 470.3 478C470.6 484.2 471.6 504.5 471.8 508" stroke="#80ffb4" stroke-width="2.4"/>
<path d="M411.1 508C411.3 505.9 412.2 493.9 412.5 490C412.8 486.1 413.6 478.5 414 475C414.4 471.5 415.3 462.9 415.8 460C416.3 457.1 417.5 452 418 450C418.5 448 419.9 444.6 420.5 443C421.1 441.4 422.4 438 423 436C423.6 434 425.3 428.4 426 426C426.7 423.6 428 417.6 428.8 415C429.6 412.4 431.7 406.1 432.5 404C433.3 401.9 435 398.5 436 397C437 395.5 439.7 392.7 441 391.5C442.3 390.3 445.6 387.9 447 387C448.4 386.1 451.8 384.1 453 383.5C454.2 382.9 456.3 381.9 457 381.5C457.7 381.1 458.4 380.3 458.8 380.5C459.2 380.7 460.1 382.1 460.5 383C460.9 383.9 461.5 386 462 388C462.5 390 464 396.9 464.5 400C465 403.1 466.2 411.5 466.7 415C467.2 418.5 468.1 426.3 468.5 430C468.9 433.7 469.7 442.8 470 447C470.3 451.2 470.9 461.4 471.2 466C471.5 470.6 472 481.1 472.2 486C472.4 490.9 472.8 505.4 472.9 508" stroke="#bfec8e" stroke-width="2.8"/>
<path d="M408.4 508C408.6 505.9 409.5 493.9 409.8 490C410.1 486.1 410.9 478.5 411.3 475C411.7 471.5 412.6 462.9 413 460C413.4 457.1 414.5 451.9 415 450C415.5 448.1 416.9 445.5 417.5 444C418.1 442.5 419.7 439 420.5 437C421.3 435 423.2 429.6 424 427C424.8 424.4 426.5 417.8 427.3 415C428.1 412.2 430.1 405.3 431 403C431.9 400.7 433.9 397 435 395.5C436.1 394 438.7 391.2 440 390C441.3 388.8 445 386.4 446.5 385.5C448 384.6 451.8 382.6 453 382C454.2 381.4 456.3 380.4 457 380C457.7 379.6 458.5 378.8 459 379C459.5 379.2 460.6 380.6 461 381.5C461.4 382.4 462.3 384.5 462.8 386.5C463.3 388.5 464.9 395.7 465.5 399C466.1 402.3 467.3 411.4 467.8 415C468.3 418.6 469.3 426.4 469.7 430C470.1 433.6 471 442 471.3 446C471.6 450 472.3 459.6 472.6 464C472.9 468.4 473.4 478.9 473.6 484C473.8 489.1 474.3 505.2 474.4 508" stroke="#ffb462" stroke-width="3.2"/>
<path d="M402.8 508C403 505.9 404.1 493.5 404.5 490C404.9 486.5 406 481.3 406.5 478C407 474.7 408 465.3 408.5 462C409 458.7 410 452 410.5 450C411 448 412.4 446.1 413 445C413.6 443.9 415.2 442.2 416 441C416.8 439.8 418.7 436.9 419.5 435C420.3 433.1 421.8 427.3 422.5 425C423.2 422.7 424.7 417.7 425.5 415C426.3 412.3 428.5 403.9 429.5 401.5C430.5 399.1 432.9 395.5 434 394C435.1 392.5 437.6 389.7 439 388.5C440.4 387.3 444.4 384.9 446 384C447.6 383.1 451.7 381.1 453 380.5C454.3 379.9 456.2 378.9 457 378.5C457.8 378.1 459 377.3 459.5 377.5C460 377.7 461 379.1 461.5 380C462 380.9 462.9 382.9 463.5 385C464.1 387.1 465.9 394.5 466.5 398C467.1 401.5 468.5 411.3 469 415C469.5 418.7 470.6 426.5 471 430C471.4 433.5 472.3 441.3 472.7 445C473.1 448.7 473.7 457.7 474 462C474.3 466.3 474.8 476.6 475 482C475.2 487.4 475.7 505 475.8 508" stroke="#ff6232" stroke-width="3.6"/>
<path d="M398.8 508C399 506.2 399.9 495.4 400.3 493C400.7 490.6 402 488.5 402.5 487.5C403 486.5 403.8 485.8 404.2 484.2C404.6 482.6 405.5 476.1 405.8 474C406.1 471.9 406.6 468.6 406.9 466C407.2 463.4 407.8 454.3 408 452C408.2 449.7 408.5 447.1 408.9 446C409.2 444.9 410.5 443.1 411 442.5C411.5 441.9 412.7 441.2 413.3 440.5C413.9 439.8 415.4 437.5 416 436.5C416.6 435.5 417.8 434.6 418.7 432C419.6 429.4 422.2 417.7 423.3 414C424.4 410.3 426.7 402.6 427.8 400.1C428.9 397.6 431.2 394.3 432.4 392.8C433.6 391.3 436.4 388.6 437.9 387.4C439.4 386.2 443.4 383.8 445.1 382.8C446.8 381.8 451.1 379.8 452.4 379.2C453.7 378.6 455.6 377.8 456.5 377.5C457.4 377.2 459.1 376.2 459.7 376.4C460.3 376.6 461.5 378.1 462 379C462.5 379.9 463.6 381.4 464.3 383.7C465 386 467.2 394.5 467.9 398.3C468.6 402.1 470.1 412.8 470.6 416.5C471.1 420.2 472.1 426.9 472.5 430C472.9 433.1 473.9 439.5 474.3 443C474.7 446.5 475.5 455.7 475.8 460C476.1 464.3 476.6 474.4 476.8 480C477 485.6 477.6 504.7 477.7 508" stroke="#ff0000" stroke-width="4.2"/>
<path d="M378.1 503.8L379.5 488.6L381.2 474.6L382.7 461.6L384.4 449.1L385.8 439.6L387.4 430.6L389.3 421.6L391.3 412.6L394.6 402.1L398.3 392.8L400.9 387.6L403.8 382.6L407.1 377.2L410.2 371.1L412.3 367.5L414.4 368.6L417.3 369.5L420.2 368.6L423.6 367L427 365.4L428.7 368.6L431.6 374.6L435.1 381.6L438.7 389.1L443 397.1L447.4 405.6L450.2 413.1L452.7 422L454.5 434.6L456.8 443.1L458.9 451L460.2 457.6L461.5 464.5L467.7 465.5L469.1 468.6L470.3 472.8L471.6 480.6L472.9 489.1L473.6 496.6L474.3 506.6" stroke="#000" stroke-width="1.8" stroke-dasharray="11.1 2.65 1.8 2.65"/>
</g>
<g clip-path="url(#cp6)" fill="none" stroke-linejoin="round" stroke-linecap="butt">
<path d="M547.9 508C548 504.7 548.5 486.2 548.9 479.4C549.3 472.6 550.5 454.2 551.1 449.9C551.7 445.6 553.3 444.2 554.2 442.2C555.1 440.2 557.8 436.9 558.5 432.9C559.2 428.9 559.5 413.9 559.8 408.1C560.1 402.3 560.9 387.6 561.3 383.4C561.7 379.2 562.4 374.2 562.9 372.5C563.4 370.8 565.3 368.5 566 368.5C566.7 368.5 568.5 370.8 569.1 372.5C569.7 374.2 570.9 380.3 571.5 383.4C572.1 386.5 573.9 395.6 574.6 398.8C575.3 402 576.7 409.3 577.4 410.6C578.1 411.9 579.7 410.5 580.5 409.7C581.3 408.9 582.9 404.9 583.9 404.1C584.9 403.3 588 403.7 589.2 402.9C590.4 402.1 592.9 398.7 593.8 397.3C594.7 395.9 596.3 392.1 596.9 391.1C597.5 390.1 598.6 388.4 599.1 388.9C599.6 389.4 601.1 392.4 601.6 395.7C602.1 399 603.4 412 603.8 417.4C604.2 422.8 604.8 435.7 605 442.2C605.2 448.7 605.5 465.5 605.6 473.2C605.7 480.9 605.9 503.9 605.9 508" stroke="#8000ff" stroke-width="1.4"/>
<path d="M615.7 508C615.9 505.7 616.8 493.4 617.3 487.9C617.8 482.4 619.6 465.6 620.1 460.5C620.6 455.4 621.3 446.2 621.9 444.3C622.5 442.4 624.6 444.8 625.5 444.1C626.4 443.4 628.5 442.1 629.2 438.7C629.9 435.3 631.5 420.1 631.9 415C632.3 409.9 632.8 399.5 633 395C633.2 390.5 633.7 380.7 633.9 376.4C634.1 372.1 634.6 360.8 634.8 358C635 355.2 635.3 352.6 635.5 352.4C635.7 352.2 636.1 354.7 636.3 356C636.5 357.3 637.1 360.9 637.4 363.7C637.7 366.5 638.5 376.4 638.8 380C639.1 383.6 639.7 392.4 640.1 394.6C640.5 396.8 641.5 398.1 642 399C642.5 399.9 643.8 401.5 644.6 401.9C645.4 402.2 647.9 402.1 649 402C650.1 401.9 652.7 401.4 653.8 401C654.9 400.6 657.2 399.4 658.3 398.3C659.4 397.2 662.1 392.4 662.9 391.5C663.7 390.6 664.9 390.3 665.5 390.5C666.1 390.7 667.8 392 668.3 392.8C668.8 393.6 669.7 395.7 670 397C670.3 398.3 670.8 401.1 671.1 403.8C671.4 406.5 672 415.8 672.2 420C672.4 424.2 672.8 435.3 673 440C673.2 444.7 673.9 452.1 674.2 460C674.5 467.9 675.2 502.4 675.3 508" stroke="#4062fa" stroke-width="1.6"/>
<path d="M630 508C630.3 505.3 632.2 490 633 485C633.8 480 635.6 469.1 636.5 465C637.4 460.9 639.5 454.3 640.3 449.6C641.1 444.9 642.5 430.8 643 425C643.5 419.2 644.5 405 644.8 400C645.1 395 645.6 385.7 645.8 382C646 378.3 646.6 370.2 646.8 368C647 365.8 647.6 362.9 647.9 362.8C648.2 362.7 648.8 365.4 649.2 367C649.6 368.6 650.5 374.5 651 376.4C651.5 378.3 652.9 381.8 653.8 383.7C654.7 385.6 657.4 391.3 658.3 392.8C659.2 394.3 660.8 395.9 661.5 396.5C662.2 397.1 664 398.3 664.7 398.3C665.4 398.3 666.9 397.1 667.5 396.5C668.1 395.9 669.2 393.8 670.1 392.8C671 391.8 674.6 388.3 675.6 387.6C676.6 386.9 677.9 386.6 678.5 386.5C679.1 386.4 680.7 386 681.1 386.4C681.5 386.8 682 388.6 682.2 390C682.4 391.4 682.7 395.4 682.9 398.3C683.1 401.2 683.5 410.1 683.7 415C683.9 419.9 684.3 434.7 684.5 440C684.7 445.3 685.4 455.2 685.6 460.5C685.8 465.8 686.3 479.5 686.5 485C686.7 490.5 687.5 505.3 687.6 508" stroke="#00b4ec" stroke-width="1.9"/>
<path d="M630.6 508C630.9 505.3 632.4 490 633 485C633.6 480 635.2 469.3 636 465C636.8 460.7 638.6 452.1 639.5 448C640.4 443.9 643 434.2 644 430C645 425.8 647.2 416.1 648 412C648.8 407.9 650.4 398.6 651 395C651.6 391.4 652.5 383.7 653 381C653.5 378.3 655.1 372.5 655.6 371.9C656.1 371.3 657.1 374.6 657.5 376C657.9 377.4 658.7 382.3 659.2 383.7C659.7 385.1 660.9 387.1 661.5 388C662.1 388.9 664 390.6 664.7 391C665.4 391.4 666.9 391.4 667.5 391.3C668.1 391.2 669.3 390.6 670.1 390.1C670.9 389.6 673.1 387.6 674 387C674.9 386.4 676.6 385.1 677.4 384.8C678.2 384.5 679.9 384.5 680.5 384.6C681.1 384.7 682.4 385 682.9 385.5C683.4 386 684.2 387.9 684.5 389C684.8 390.1 685.4 393 685.6 395C685.8 397 686.3 403.1 686.6 406C686.9 408.9 687.5 416 687.8 420C688.1 424 689.1 435.6 689.5 440C689.9 444.4 690.7 453.3 691 458C691.3 462.7 691.9 474.2 692.3 480C692.7 485.8 693.8 504.7 694 508" stroke="#40ecd4" stroke-width="2.2"/>
<path d="M631.5 508C631.7 506.1 632.8 495.3 633.2 492C633.6 488.7 634.5 483.1 635 480C635.5 476.9 636.9 468.5 637.5 465C638.1 461.5 639.7 453.6 640.5 450C641.3 446.4 643.5 438.1 644.5 434C645.5 429.9 648.3 418.7 649.2 415C650.1 411.3 651.4 405 652 402C652.6 399 653.9 391.7 654.5 389C655.1 386.3 656.8 379.4 657.4 378.5C658 377.6 659.3 380.3 660 381C660.7 381.7 662.2 383.8 663 384.5C663.8 385.2 665.7 386.6 666.5 387C667.3 387.4 669.2 387.9 670.1 387.8C671 387.7 673.4 386.4 674.5 386C675.6 385.6 678.4 384.1 679.3 384C680.2 383.9 681.9 384.3 682.5 385C683.1 385.7 683.9 388.2 684.3 390C684.6 391.8 685.2 397.1 685.5 400C685.8 402.9 686.5 411.5 686.8 415C687.1 418.5 687.9 425.9 688.2 430C688.6 434.1 689.4 444.8 689.8 450C690.2 455.2 691.1 468.2 691.5 475C691.9 481.8 693.2 504.1 693.4 508" stroke="#80ffb4" stroke-width="2.4"/>
<path d="M629.3 508C629.5 506.1 630.6 495.3 631 492C631.4 488.7 632.5 482.8 633 480C633.5 477.2 634.4 471.3 635 468C635.6 464.7 637.1 455.9 638 452C638.9 448.1 641.4 438.8 642.5 434.5C643.6 430.2 646.6 418.4 647.6 415C648.6 411.6 650 407.3 651 405C652 402.7 654.9 397.3 656 395.5C657.1 393.7 659.5 390.5 660.5 389.5C661.5 388.5 663.9 387.4 665 387C666.1 386.6 668.9 386.2 670 386C671.1 385.8 673.5 385.2 674.5 385C675.5 384.8 677.7 384.4 678.5 384.5C679.3 384.6 680.9 385 681.5 385.5C682.1 386 683.1 387.5 683.5 389C683.9 390.5 684.8 395 685.2 398C685.6 401 686.9 411.5 687.3 415C687.7 418.5 688.4 424.7 688.7 428C689 431.3 689.8 438.1 690.2 443C690.6 447.9 691.9 464.9 692.2 470C692.6 475.1 693 482.6 693.2 487C693.4 491.4 694.1 505.6 694.2 508" stroke="#bfec8e" stroke-width="2.8"/>
<path d="M626.8 508C627.1 506.1 628.2 495 628.7 492C629.2 489 630.3 484.6 630.8 482C631.3 479.4 632.3 473.5 633 470C633.7 466.5 635.6 456.2 636.5 452C637.4 447.8 639.9 438.3 641 434C642.1 429.7 645.1 418.4 646.1 415C647.1 411.6 648.5 406.9 649.5 404.5C650.5 402.1 653.3 396.4 654.5 394.5C655.7 392.6 658.3 389.1 659.5 388C660.7 386.9 663.3 385.6 664.5 385C665.7 384.4 668.4 383 669.5 382.5C670.6 382 673.1 381.2 674 381C674.9 380.8 676.8 380.9 677.5 381C678.2 381.1 679.4 381.4 680 382C680.6 382.6 682.4 384.8 683 386.5C683.6 388.2 684.9 393.2 685.5 396.5C686.1 399.8 687.6 411.3 688 415C688.4 418.7 689 424.7 689.3 428C689.6 431.3 690.4 438.1 690.8 443C691.2 447.9 692.5 464.9 692.9 470C693.3 475.1 693.7 482.6 693.9 487C694.1 491.4 694.8 505.6 694.9 508" stroke="#ffb462" stroke-width="3.2"/>
<path d="M624.1 508C624.4 506.1 625.5 494.8 626 492C626.5 489.2 627.9 486.3 628.5 484C629.1 481.7 630 475.7 630.8 472C631.6 468.3 634 456.5 635 452C636 447.5 638.7 437.8 639.8 433.5C640.9 429.2 643.6 418.4 644.6 415C645.6 411.6 647 406.5 648 404C649 401.5 651.8 395.5 653 393.5C654.2 391.5 657.2 388.1 658.5 387C659.8 385.9 662.8 384.7 664 384C665.2 383.3 667.8 381.6 669 381C670.2 380.4 673 379.2 674 379C675 378.8 676.8 378.9 677.5 379C678.2 379.1 679.3 379.3 680 380C680.7 380.7 682.8 383.2 683.5 385C684.2 386.8 685.6 392 686.2 395.5C686.8 399 688.3 411.2 688.7 415C689.1 418.8 689.7 424.7 690 428C690.3 431.3 691.2 438.1 691.6 443C692 447.9 693.4 464.9 693.8 470C694.2 475.1 694.6 482.6 694.8 487C695 491.4 695.7 505.6 695.8 508" stroke="#ff6232" stroke-width="3.6"/>
<path d="M621.5 508C621.7 506.5 622.5 497.1 622.8 495C623.1 492.9 623.4 490.7 623.7 489.7C624 488.7 625.1 487.1 625.5 486.5C625.9 485.9 626.9 485.7 627.3 484.2C627.7 482.7 628.5 477.1 629.2 473.3C629.9 469.5 632.6 456.1 633.7 451.4C634.8 446.7 637.2 437.4 638.3 433.2C639.4 429 641.8 418.4 642.8 415C643.8 411.6 645.4 406.4 646.5 403.8C647.6 401.2 650.6 394.8 651.9 392.8C653.2 390.8 656.1 387.5 657.4 386.4C658.7 385.3 661.6 384.4 662.9 383.7C664.2 383 667 380.8 668.3 380.1C669.6 379.4 672.8 378 673.8 377.7C674.8 377.4 676.3 377.4 677 377.5C677.7 377.6 679.3 377.6 680.2 378.3C681.1 379 683.9 381.8 684.7 383.7C685.5 385.6 686.8 390.9 687.4 394.6C688 398.3 689.4 411.1 689.8 415C690.2 418.9 690.8 424.8 691.2 428C691.6 431.2 692.4 437.4 692.9 442.3C693.4 447.2 694.9 464.4 695.3 469.6C695.7 474.8 696.1 482.5 696.3 487C696.5 491.5 697.2 505.6 697.3 508" stroke="#ff0000" stroke-width="4.2"/>
<path d="M596.9 503.8L598.3 488.6L599.9 474.6L601.4 461.6L603 449.1L604.4 439.6L606 430.6L607.8 421.6L609.8 412.6L613 402.1L616.6 392.8L619.2 387.6L622 382.6L625.2 377.2L628.2 371.1L630.3 367.5L632.3 368.6L635.2 369.5L638 368.6L641.3 367L644.7 365.4L646.2 368.6L649.2 374.6L652.5 381.6L656 389.1L660.3 397.1L664.6 405.6L667.3 413.1L669.8 422L671.4 434.6L673.7 443.1L675.8 451L677.1 457.6L678.3 464.5L684.3 465.5L685.7 468.6L686.9 472.8L688.2 480.6L689.4 489.1L690.1 496.6L690.8 506.6" stroke="#000" stroke-width="1.8" stroke-dasharray="11.1 2.65 1.8 2.65"/>
</g>
<rect x="63.1" y="100.4" width="216.5" height="200.5" fill="none" stroke="#858585" stroke-width="1.05"/>
<rect x="281.9" y="100.4" width="216.6" height="200.5" fill="none" stroke="#858585" stroke-width="1.05"/>
<rect x="500.8" y="100.4" width="216.7" height="200.5" fill="none" stroke="#858585" stroke-width="1.05"/>
<rect x="63.1" y="303.1" width="216.5" height="200.6" fill="none" stroke="#858585" stroke-width="1.05"/>
<rect x="281.9" y="303.1" width="216.6" height="200.6" fill="none" stroke="#858585" stroke-width="1.05"/>
<rect x="500.8" y="303.1" width="216.7" height="200.6" fill="none" stroke="#858585" stroke-width="1.05"/>
<text x="168.3" y="126.6" font-size="22" font-style="italic" textLength="12.4" lengthAdjust="spacingAndGlyphs">S</text><text x="181.1" y="129.9" font-size="13.5">1</text><path d="M193.9 119H207.7M193.9 122.7H207.7" stroke="#1a1a1a" stroke-width="1.1" fill="none"/><text x="215.3" y="126.6" font-size="21">0.1</text>
<text x="168.3" y="148.4" font-size="22" font-style="italic" textLength="12.4" lengthAdjust="spacingAndGlyphs">S</text><text x="181.1" y="151.7" font-size="13.5">2</text><path d="M193.9 140.8H207.7M193.9 144.5H207.7" stroke="#1a1a1a" stroke-width="1.1" fill="none"/><text x="216.7" y="148.4" font-size="21" textLength="52.6" lengthAdjust="spacingAndGlyphs">U(0,1)</text>
<text x="387.7" y="126.6" font-size="22" font-style="italic" textLength="12.4" lengthAdjust="spacingAndGlyphs">S</text><text x="400.5" y="129.9" font-size="13.5">1</text><path d="M413.3 119H427.1M413.3 122.7H427.1" stroke="#1a1a1a" stroke-width="1.1" fill="none"/><text x="434.7" y="126.6" font-size="21">0.2</text>
<text x="387.7" y="148.4" font-size="22" font-style="italic" textLength="12.4" lengthAdjust="spacingAndGlyphs">S</text><text x="400.5" y="151.7" font-size="13.5">2</text><path d="M413.3 140.8H427.1M413.3 144.5H427.1" stroke="#1a1a1a" stroke-width="1.1" fill="none"/><text x="436.1" y="148.4" font-size="21" textLength="52.6" lengthAdjust="spacingAndGlyphs">U(0,1)</text>
<text x="607.7" y="126.6" font-size="22" font-style="italic" textLength="12.4" lengthAdjust="spacingAndGlyphs">S</text><text x="620.5" y="129.9" font-size="13.5">1</text><path d="M633.3 119H647.1M633.3 122.7H647.1" stroke="#1a1a1a" stroke-width="1.1" fill="none"/><text x="654.7" y="126.6" font-size="21">0.5</text>
<text x="607.7" y="148.4" font-size="22" font-style="italic" textLength="12.4" lengthAdjust="spacingAndGlyphs">S</text><text x="620.5" y="151.7" font-size="13.5">2</text><path d="M633.3 140.8H647.1M633.3 144.5H647.1" stroke="#1a1a1a" stroke-width="1.1" fill="none"/><text x="656.1" y="148.4" font-size="21" textLength="52.6" lengthAdjust="spacingAndGlyphs">U(0,1)</text>
<text x="170.3" y="329.2" font-size="22" font-style="italic" textLength="12.4" lengthAdjust="spacingAndGlyphs">S</text><text x="183.1" y="332.5" font-size="13.5">1</text><path d="M195.9 321.6H209.7M195.9 325.3H209.7" stroke="#1a1a1a" stroke-width="1.1" fill="none"/><text x="217.3" y="329.2" font-size="21">0.6</text>
<text x="170.3" y="350.4" font-size="22" font-style="italic" textLength="12.4" lengthAdjust="spacingAndGlyphs">S</text><text x="183.1" y="353.7" font-size="13.5">2</text><path d="M195.9 342.8H209.7M195.9 346.5H209.7" stroke="#1a1a1a" stroke-width="1.1" fill="none"/><text x="218.7" y="350.4" font-size="21" textLength="52.6" lengthAdjust="spacingAndGlyphs">U(0,1)</text>
<text x="389.6" y="329.2" font-size="22" font-style="italic" textLength="12.4" lengthAdjust="spacingAndGlyphs">S</text><text x="402.4" y="332.5" font-size="13.5">1</text><path d="M415.2 321.6H429M415.2 325.3H429" stroke="#1a1a1a" stroke-width="1.1" fill="none"/><text x="436.6" y="329.2" font-size="21">0.8</text>
<text x="389.6" y="350.4" font-size="22" font-style="italic" textLength="12.4" lengthAdjust="spacingAndGlyphs">S</text><text x="402.4" y="353.7" font-size="13.5">2</text><path d="M415.2 342.8H429M415.2 346.5H429" stroke="#1a1a1a" stroke-width="1.1" fill="none"/><text x="438" y="350.4" font-size="21" textLength="52.6" lengthAdjust="spacingAndGlyphs">U(0,1)</text>
<text x="607.7" y="329.2" font-size="22" font-style="italic" textLength="12.4" lengthAdjust="spacingAndGlyphs">S</text><text x="620.5" y="332.5" font-size="13.5">1</text><path d="M633.3 321.6H647.1M633.3 325.3H647.1" stroke="#1a1a1a" stroke-width="1.1" fill="none"/><text x="654.7" y="329.2" font-size="21">0.99</text>
<text x="607.7" y="350.4" font-size="22" font-style="italic" textLength="12.4" lengthAdjust="spacingAndGlyphs">S</text><text x="620.5" y="353.7" font-size="13.5">2</text><path d="M633.3 342.8H647.1M633.3 346.5H647.1" stroke="#1a1a1a" stroke-width="1.1" fill="none"/><text x="656.1" y="350.4" font-size="21" textLength="52.6" lengthAdjust="spacingAndGlyphs">U(0,1)</text>
<text x="59.6" y="301.4" font-size="14" text-anchor="end">3</text><path d="M42.3 296.5H52.7" stroke="#1a1a1a" stroke-width="1.05" fill="none"/><text x="40.2" y="308.9" font-size="20" text-anchor="end">10</text>
<text x="59.6" y="241.4" font-size="14" text-anchor="end">2</text><path d="M42.3 236.5H52.7" stroke="#1a1a1a" stroke-width="1.05" fill="none"/><text x="40.2" y="248.9" font-size="20" text-anchor="end">10</text>
<text x="59.6" y="181.4" font-size="14" text-anchor="end">1</text><path d="M42.3 176.5H52.7" stroke="#1a1a1a" stroke-width="1.05" fill="none"/><text x="40.2" y="188.9" font-size="20" text-anchor="end">10</text>
<text x="59.6" y="128.9" font-size="20" text-anchor="end">10<tspan font-size="14" dy="-7.5">0</tspan></text>
<text x="59.6" y="504.6" font-size="14" text-anchor="end">3</text><path d="M42.3 499.7H52.7" stroke="#1a1a1a" stroke-width="1.05" fill="none"/><text x="40.2" y="512.1" font-size="20" text-anchor="end">10</text>
<text x="59.6" y="444.6" font-size="14" text-anchor="end">2</text><path d="M42.3 439.7H52.7" stroke="#1a1a1a" stroke-width="1.05" fill="none"/><text x="40.2" y="452.1" font-size="20" text-anchor="end">10</text>
<text x="59.6" y="384.6" font-size="14" text-anchor="end">1</text><path d="M42.3 379.7H52.7" stroke="#1a1a1a" stroke-width="1.05" fill="none"/><text x="40.2" y="392.1" font-size="20" text-anchor="end">10</text>
<text x="59.6" y="332.1" font-size="20" text-anchor="end">10<tspan font-size="14" dy="-7.5">0</tspan></text>
<text x="117.5" y="522.2" font-size="20" text-anchor="middle">10<tspan font-size="14" dy="-7.5">0</tspan></text>
<text x="198.2" y="522.2" font-size="20" text-anchor="middle">10<tspan font-size="14" dy="-7.5">2</tspan></text>
<text x="278.9" y="522.2" font-size="20" text-anchor="middle">10<tspan font-size="14" dy="-7.5">4</tspan></text>
<text x="336.3" y="522.2" font-size="20" text-anchor="middle">10<tspan font-size="14" dy="-7.5">0</tspan></text>
<text x="417" y="522.2" font-size="20" text-anchor="middle">10<tspan font-size="14" dy="-7.5">2</tspan></text>
<text x="497.7" y="522.2" font-size="20" text-anchor="middle">10<tspan font-size="14" dy="-7.5">4</tspan></text>
<text x="555.1" y="522.2" font-size="20" text-anchor="middle">10<tspan font-size="14" dy="-7.5">0</tspan></text>
<text x="635.8" y="522.2" font-size="20" text-anchor="middle">10<tspan font-size="14" dy="-7.5">2</tspan></text>
<text x="716.5" y="522.2" font-size="20" text-anchor="middle">10<tspan font-size="14" dy="-7.5">4</tspan></text>
<text x="373.2" y="545.2" font-size="21" font-style="italic" textLength="10" lengthAdjust="spacingAndGlyphs">v</text>
<text x="384.2" y="550" font-size="14">kick</text>
<g transform="translate(14.9 343.6) rotate(-90)">
<text x="0" y="0" font-size="21">d</text>
<text x="10.6" y="0" font-size="21" font-style="italic" textLength="14.8" lengthAdjust="spacingAndGlyphs">N</text>
<path d="M27.6 4.4L37.8 -12.4" stroke="#1a1a1a" stroke-width="1.1" fill="none"/>
<text x="39.2" y="0" font-size="21">d</text>
<text x="49.4" y="0" font-size="21" font-style="italic" textLength="9.6" lengthAdjust="spacingAndGlyphs">v</text>
<text x="58.4" y="5" font-size="14">kick</text>
</g>
</svg></body></html>
